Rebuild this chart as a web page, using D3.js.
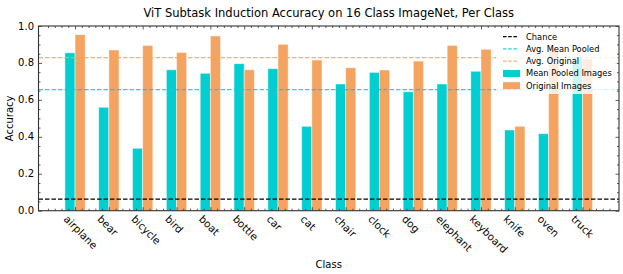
<!DOCTYPE html>
<html>
<head>
<meta charset="utf-8">
<script src="https://cdn.jsdelivr.net/npm/d3@7"></script>
<style>
  body { margin: 0; background: #fff; }
  text { font-family: "DejaVu Sans", sans-serif; fill: #000; }
</style>
</head>
<body>
<div id="chart"></div>
<script>
// data
var classes = ["airplane", "bear", "bicycle", "bird", "boat", "bottle", "car", "cat",
               "chair", "clock", "dog", "elephant", "keyboard", "knife", "oven", "truck"];
var meanPooled = [0.855, 0.560, 0.338, 0.763, 0.744, 0.796, 0.769, 0.457,
                  0.686, 0.749, 0.644, 0.686, 0.755, 0.437, 0.417, 0.832];
var original   = [0.953, 0.870, 0.895, 0.857, 0.946, 0.763, 0.901, 0.816,
                  0.774, 0.762, 0.810, 0.895, 0.874, 0.457, 0.879, 0.822];
var chance = 1 / 16;
var avgMeanPooled = 0.656;
var avgOriginal = 0.829;
var yTicks = [0, 0.2, 0.4, 0.6, 0.8, 1.0];

var W = 623, H = 274;
var margin = {top: 26, right: 4, bottom: 63.3, left: 38.5},
    width = W - margin.left - margin.right,
    height = H - margin.top - margin.bottom;

var cyan = "#00ced1", orange = "#f4a460";
var barW = 0.3;

var svg = d3.select("#chart").append("svg")
    .attr("width", W)
    .attr("height", H);

var g = svg.append("g")
    .attr("transform", "translate(" + margin.left + "," + margin.top + ")");

// x scale in class index units, with matplotlib-like 5% padding
var lo = -barW, hi = classes.length - 1 + barW, pad = (hi - lo) * 0.05;
var x = d3.scaleLinear().domain([lo - pad, hi + pad]).range([0, width]);
var y = d3.scaleLinear().domain([0, 1]).range([height, 0]);

// bars
g.selectAll(".mp")
  .data(meanPooled)
  .enter().append("rect")
    .attr("x", (d, i) => x(i - barW))
    .attr("width", x(barW) - x(0))
    .attr("y", d => y(d))
    .attr("height", d => y(0) - y(d))
    .attr("fill", cyan)
    .attr("stroke", "#ffffff").attr("stroke-opacity", 0.6).attr("stroke-width", 0.8);

g.selectAll(".or")
  .data(original)
  .enter().append("rect")
    .attr("x", (d, i) => x(i))
    .attr("width", x(barW) - x(0))
    .attr("y", d => y(d))
    .attr("height", d => y(0) - y(d))
    .attr("fill", orange)
    .attr("stroke", "#ffffff").attr("stroke-opacity", 0.6).attr("stroke-width", 0.8);

// horizontal reference lines
var refLines = [
  {v: chance, color: "#000", op: 1},
  {v: avgMeanPooled, color: cyan, op: 0.85},
  {v: avgOriginal, color: orange, op: 0.85}
];
g.selectAll(".ref")
  .data(refLines)
  .enter().append("line")
    .attr("x1", 0).attr("x2", width)
    .attr("y1", d => y(d.v)).attr("y2", d => y(d.v))
    .attr("stroke", d => d.color)
    .attr("stroke-opacity", d => d.op)
    .attr("stroke-width", 1.3)
    .attr("stroke-dasharray", "4.5,2");

// axes: inward ticks on all four sides
var xMajor = d3.range(classes.length);
var xMinor = d3.range(Math.ceil((lo - pad) * 5), Math.floor((hi + pad) * 5) + 1)
  .map(k => k / 5).filter(v => Math.abs(v - Math.round(v)) > 1e-6);
var yMinor = d3.range(0, 21).map(k => k / 20).filter(v => Math.abs(v * 5 - Math.round(v * 5)) > 1e-6);

function ticks(axisGen, vals, len, tr) {
  g.append("g")
    .attr("transform", tr)
    .call(axisGen.tickValues(vals).tickSize(-len).tickFormat(""))
    .call(s => s.select(".domain").remove())
    .selectAll("line").attr("stroke", "#333").attr("stroke-width", 0.8);
}
ticks(d3.axisBottom(x), xMajor, 3.5, "translate(0," + height + ")");
ticks(d3.axisBottom(x), xMinor, 2, "translate(0," + height + ")");
ticks(d3.axisTop(x), xMajor, 3.5, "translate(0,0)");
ticks(d3.axisTop(x), xMinor, 2, "translate(0,0)");
ticks(d3.axisLeft(y), yTicks, 3.5, "translate(0,0)");
ticks(d3.axisLeft(y), yMinor, 2, "translate(0,0)");
ticks(d3.axisRight(y), yTicks, 3.5, "translate(" + width + ",0)");
ticks(d3.axisRight(y), yMinor, 2, "translate(" + width + ",0)");

// frame
g.append("rect")
  .attr("width", width).attr("height", height)
  .attr("fill", "none").attr("stroke", "#333").attr("stroke-width", 1.1);

// y tick labels
g.selectAll(".ylab")
  .data(yTicks)
  .enter().append("text")
    .attr("x", -4.5)
    .attr("y", d => y(d))
    .attr("dy", "0.35em")
    .attr("text-anchor", "end")
    .style("font-size", "10px")
    .text(d => d.toFixed(1));

// x tick labels, rotated 45 degrees
var fs = 10.4;
g.selectAll(".xlab")
  .data(classes)
  .enter().append("text")
    .style("font-size", fs + "px")
    .attr("text-anchor", "start")
    .attr("transform", (d, i) => "translate(" + (x(i) - 12) + "," + (height + 9) + ") rotate(45)")
    .text(d => d);

// axis titles
svg.append("text")
  .attr("x", margin.left + width / 2)
  .attr("y", 268)
  .attr("text-anchor", "middle")
  .style("font-size", "10px")
  .text("Class");

svg.append("text")
  .attr("transform", "translate(13," + (margin.top + height / 2) + ") rotate(-90)")
  .attr("text-anchor", "middle")
  .style("font-size", "10px")
  .text("Accuracy");

svg.append("text")
  .attr("x", margin.left + width / 2)
  .attr("y", 17)
  .attr("text-anchor", "middle")
  .style("font-size", "11.5px")
  .text("ViT Subtask Induction Accuracy on 16 Class ImageNet, Per Class");

// legend
var legendItems = [
  {label: "Chance", color: "#000", kind: "line", op: 1},
  {label: "Avg. Mean Pooled", color: cyan, kind: "line", op: 0.85},
  {label: "Avg. Original", color: orange, kind: "line", op: 0.85},
  {label: "Mean Pooled Images", color: cyan, kind: "patch", op: 1},
  {label: "Original Images", color: orange, kind: "patch", op: 1}
];
var lg = svg.append("g").attr("transform", "translate(496,28)");
lg.append("rect")
  .attr("width", 121).attr("height", 66).attr("rx", 2)
  .attr("fill", "#fff").attr("fill-opacity", 0.8);
var row = lg.selectAll(".item")
  .data(legendItems)
  .enter().append("g")
    .attr("transform", (d, i) => "translate(0," + (8.7 + i * 12.25) + ")");
row.filter(d => d.kind === "line").append("line")
  .attr("x1", 7).attr("x2", 21)
  .attr("stroke", d => d.color).attr("stroke-opacity", d => d.op)
  .attr("stroke-width", 1.2).attr("stroke-dasharray", "3.5,1.7");
row.filter(d => d.kind === "patch").append("rect")
  .attr("x", 7).attr("y", -3.5).attr("width", 17).attr("height", 7)
  .attr("fill", d => d.color);
row.append("text")
  .attr("x", 30)
  .attr("dy", "0.35em")
  .style("font-size", "8.3px")
  .text(d => d.label);
</script>
</body>
</html>
